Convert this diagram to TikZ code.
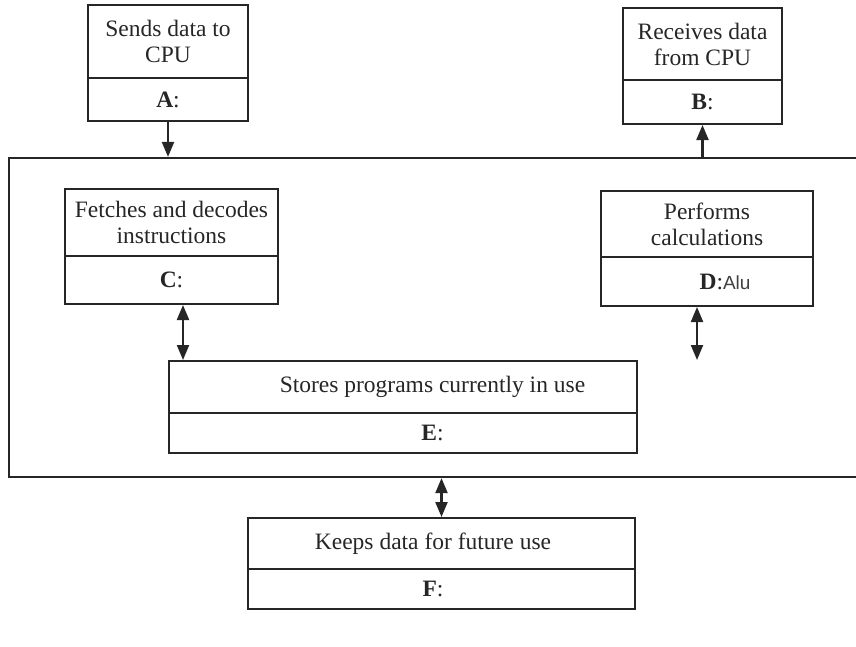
\documentclass[tikz,border=0pt]{standalone}
\usepackage{fontspec}
\setmainfont{Liberation Serif}
\newfontfamily\handfont{Liberation Sans}
\usetikzlibrary{arrows.meta}

\begin{document}
\begin{tikzpicture}[x=1pt, y=-1pt,
  every node/.style={font=\fontsize{23.5}{26}\selectfont, text=black!85},
  desc/.style={draw=black!85,line width=2pt,inner sep=0pt,align=center},
  lab/.style={draw=black!85,line width=2pt,inner sep=0pt},
  link/.style={draw=black!85,line width=2.2pt,-{Triangle[length=15pt,width=12pt]}},
  dlink/.style={draw=black!85,line width=2.2pt,{Triangle[length=15pt,width=12pt]}-{Triangle[length=15pt,width=12pt]}}]

  \useasboundingbox (0,0) rectangle (856,646);

  % CPU outline
  \node[draw=black!85,line width=2.2pt,minimum width=870pt,minimum height=319pt] (cpu) at (444,317.5) {};

  % Input and output devices
  \node[desc,minimum width=160pt,minimum height=73pt] (a) at (168,41.5) {Sends data to\\CPU};
  \node[lab,minimum width=160pt,minimum height=43pt] (aL) at (168,99.5) {\textbf{A}:};

  \node[desc,minimum width=159pt,minimum height=72pt] (b) at (702.5,44) {Receives data\\from CPU};
  \node[lab,minimum width=159pt,minimum height=44pt] (bL) at (702.5,102) {\textbf{B}:};

  % Inside the CPU
  \node[desc,minimum width=213pt,minimum height=67pt] (c) at (171.5,222.5) {Fetches and decodes\\instructions};
  \node[lab,minimum width=213pt,minimum height=48pt] (cL) at (171.5,280) {\textbf{C}:};

  \node[desc,minimum width=212pt,minimum height=66pt] (d) at (707,224) {Performs\\calculations};
  \node[lab,minimum width=212pt,minimum height=49pt] (dL) at (707,281.5) {\hspace*{36pt}\textbf{D}:{\handfont\fontsize{19}{20}\selectfont\color{black!75}Alu}};

  \node[desc,minimum width=468pt,minimum height=52pt] (e) at (402.5,387) {\hspace*{60pt}Stores programs currently in use};
  \node[lab,minimum width=468pt,minimum height=40pt] (eL) at (402.5,433) {\hspace*{60pt}\textbf{E}:};

  % Storage
  \node[desc,minimum width=387pt,minimum height=51pt] (f) at (441.5,543.5) {Keeps data for future use\hspace*{17pt}};
  \node[lab,minimum width=387pt,minimum height=40pt] (fL) at (441.5,589) {\textbf{F}:\hspace*{17pt}};

  % Connectors
  \draw[link] (aL.south) -- (aL.south |- cpu.north);
  \draw[link] (bL.south |- cpu.north) -- (bL.south);

  \path (cL.south) ++(11.5,0) coordinate (cE);
  \draw[dlink] (cE) -- (cE |- e.north);
  \path (dL.south) ++(-10,0) coordinate (dE);
  \draw[dlink] (dE) -- (dE |- e.north);

  \draw[dlink] (f.north |- cpu.south) -- (f.north);
\end{tikzpicture}
\end{document}
